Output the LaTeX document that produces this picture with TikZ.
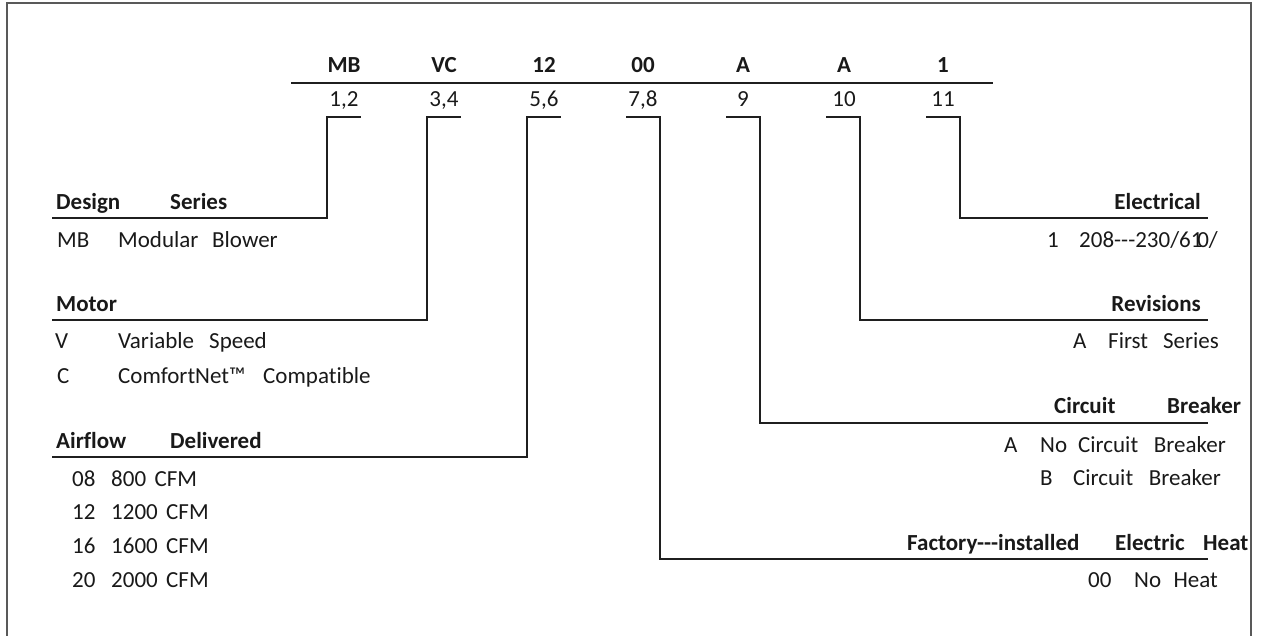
\documentclass[tikz,border=0pt]{standalone}
\usepackage{fontspec}
\setmainfont{Carlito}[Ligatures={TeXOff,NoCommon}]
\newcommand\fsz{\fontsize{23}{27}\selectfont}
\begin{document}
\begin{tikzpicture}[x=1pt,y=-1pt,
  conn/.style={line width=2.7pt, color=black!88, line join=miter, line cap=rect},
  frame/.style={line width=1.4pt, color=black!65},
  w/.style={inner sep=0pt, anchor=base west, font=\fsz, text=black!90},
  e/.style={inner sep=0pt, anchor=base east, font=\fsz, text=black!90},
  c/.style={inner sep=0pt, anchor=base, font=\fsz, text=black!90},
  bw/.style={w, font=\fsz\bfseries},
  be/.style={e, font=\fsz\bfseries},
  bc/.style={c, font=\fsz\bfseries}]
\useasboundingbox (0,0) rectangle (1266,636);
% frame
\coordinate (fbl) at (7,640);
\coordinate (ftl) at (7,3);
\coordinate (ftr) at (1251,3);
\coordinate (fbr) at (1251,640);
\draw[frame] (fbl) -- (ftl) -- (ftr) -- (fbr);
% model code
\coordinate (topl) at (291,83);
\coordinate (topr) at (993,83);
\draw[conn, line cap=butt] (topl) -- (topr);
\foreach \t/\n/\x [count=\i] in {MB/1{,}2/344,VC/3{,}4/444,12/5{,}6/544,00/7{,}8/643,A/9/743,A/10/844,1/11/943}{
  \node[bc] (code\i) at (\x,73) {\t};
  \node[c] (pos\i) at (\x,107) {\n};
}
% bracket coordinates
\coordinate (b1a) at (360,117); \coordinate (b1b) at (327,117);
\coordinate (b2a) at (460,117); \coordinate (b2b) at (427,117);
\coordinate (b3a) at (560,117); \coordinate (b3b) at (527,117);
\coordinate (b4a) at (627,117); \coordinate (b4b) at (660,117);
\coordinate (b5a) at (727,117); \coordinate (b5b) at (760,117);
\coordinate (b6a) at (827,117); \coordinate (b6b) at (860,117);
\coordinate (b7a) at (927,117); \coordinate (b7b) at (960,117);
\coordinate (l1) at (53,218);
\coordinate (l2) at (53,320);
\coordinate (l3) at (53,457);
\coordinate (r7) at (1207,218);
\coordinate (r6) at (1207,320);
\coordinate (r5) at (1207,423);
\coordinate (r4) at (1207,559);
\draw[conn] (b1a) -- (b1b) |- (l1);
\draw[conn] (b2a) -- (b2b) |- (l2);
\draw[conn] (b3a) -- (b3b) |- (l3);
\draw[conn] (b4a) -- (b4b) |- (r4);
\draw[conn] (b5a) -- (b5b) |- (r5);
\draw[conn] (b6a) -- (b6b) |- (r6);
\draw[conn] (b7a) -- (b7b) |- (r7);
% left texts
\node[bw] (ds1) at (56,210) {Design};
\node[bw] (ds2) at (170,210) {Series};
\node[w] (mb1) at (57,248) {MB};
\node[w] (mb2) at (118,248) {Modular};
\node[w] (mb3) at (212,248) {Blower};
\node[bw] (mo) at (56,312) {Motor};
\node[w] (v1) at (55,348) {V};
\node[w] (v2) at (118,348) {Variable};
\node[w] (v3) at (209,348) {Speed};
\node[w] (c1) at (57,383) {C};
\node[w] (c2) at (118,383) {ComfortNet™};
\node[w] (c3) at (263,383) {Compatible};
\node[bw] (af1) at (56,448) {Airflow};
\node[bw] (af2) at (170,448) {Delivered};
\foreach \a/\b/\y [count=\i] in {08/800/486,12/1200/519,16/1600/553,20/2000/587}{
  \node[w] (ra\i) at (72,\y) {\a};
  \node[w] (rb\i) at (111,\y) {\b};
  \node[w, anchor=base west] (rc\i) at ([xshift=8pt]rb\i.base east) {CFM};
}
% right texts
\node[be] (el) at (1201,210) {Electrical};
\node[w] (el1) at (1047,248) {1};
\node[w] (el2) at (1079,248) {208---230/6\makebox[0.28em][l]{1}0/};
\node[be] (rv) at (1201,312) {Revisions};
\node[w] (rv1) at (1073,348) {A};
\node[w] (rv2) at (1108,348) {First};
\node[e] (rv3) at (1219,348) {Series};
\node[bw] (cb1) at (1054,413) {Circuit};
\node[bw] (cb2) at (1167,413) {Breaker};
\node[w] (ca1) at (1004,452) {A};
\node[w] (ca2) at (1040,452) {No};
\node[w] (ca3) at (1078,452) {Circuit};
\node[e] (ca4) at (1226,452) {Breaker};
\node[w] (cc1) at (1040,485) {B};
\node[w] (cc2) at (1073,485) {Circuit};
\node[e] (cc3) at (1221,485) {Breaker};
\node[bw] (fh1) at (907,550) {Factory---installed};
\node[bw] (fh2) at (1115,550) {Electric};
\node[bw] (fh3) at (1203,550) {Heat};
\node[w] (nh1) at (1088,587) {00};
\node[w] (nh2) at (1134,587) {No};
\node[e] (nh3) at (1218,587) {Heat};
\end{tikzpicture}
\end{document}
